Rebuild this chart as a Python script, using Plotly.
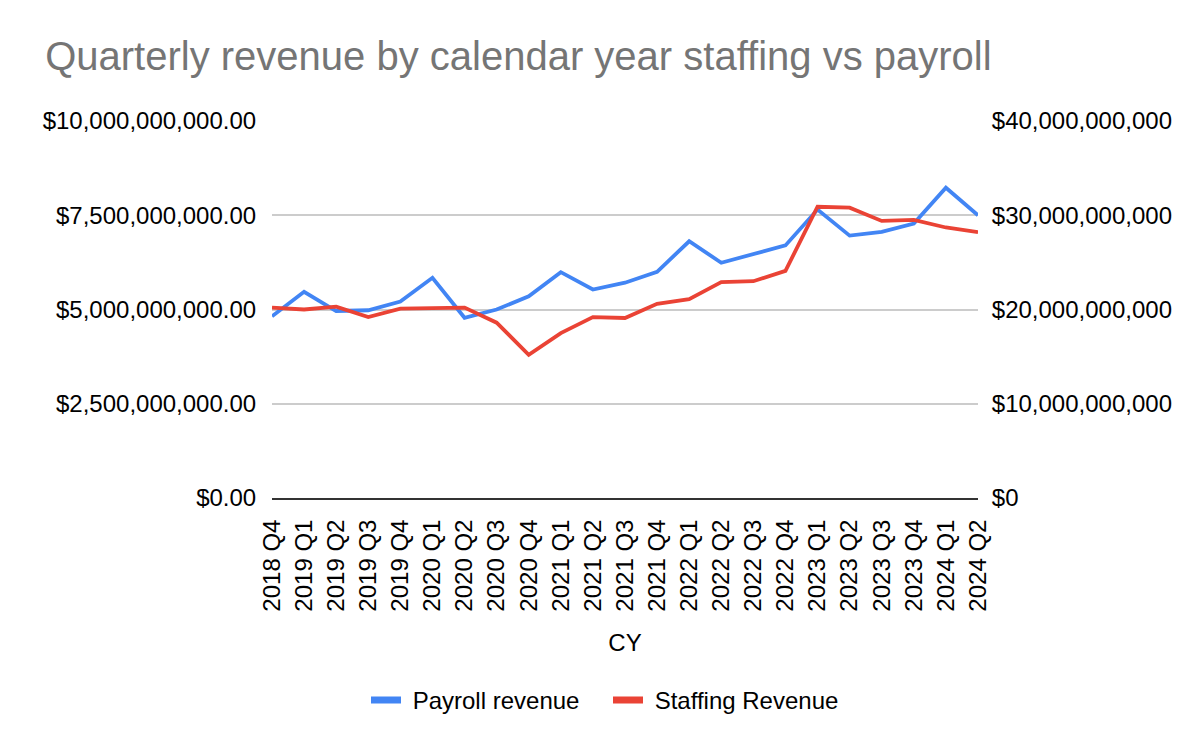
import plotly.graph_objects as go

quarters = ['2018 Q4', '2019 Q1', '2019 Q2', '2019 Q3', '2019 Q4', '2020 Q1', '2020 Q2', '2020 Q3',
            '2020 Q4', '2021 Q1', '2021 Q2', '2021 Q3', '2021 Q4', '2022 Q1', '2022 Q2', '2022 Q3',
            '2022 Q4', '2023 Q1', '2023 Q2', '2023 Q3', '2023 Q4', '2024 Q1', '2024 Q2']

# left axis, billions of dollars
payroll_bn = [4.82, 5.47, 4.96, 4.98, 5.21, 5.84, 4.78, 5.00, 5.35, 5.99, 5.53, 5.71,
              6.00, 6.81, 6.24, 6.47, 6.70, 7.65, 6.96, 7.06, 7.28, 8.23, 7.50]
# right axis, billions of dollars
staffing_bn = [20.2, 20.0, 20.3, 19.2, 20.1, 20.2, 20.2, 18.6, 15.2, 17.5, 19.2, 19.1,
               20.6, 21.1, 22.9, 23.0, 24.1, 30.9, 30.8, 29.4, 29.5, 28.7, 28.2]

payroll = [v * 1e9 for v in payroll_bn]
staffing = [v * 1e9 for v in staffing_bn]

FONT = 'Liberation Sans, Arial, sans-serif'
BLUE = '#4285F4'
RED = '#EA4335'

fig = go.Figure()
fig.add_trace(go.Scatter(x=quarters, y=payroll, mode='lines', name='Payroll revenue',
                         line=dict(color=BLUE, width=3.8), yaxis='y', showlegend=False))
fig.add_trace(go.Scatter(x=quarters, y=staffing, mode='lines', name='Staffing Revenue',
                         line=dict(color=RED, width=3.8), yaxis='y2', showlegend=False))

# legend-only entries so the key swatches come out short and thick like the original
# (leading nbsp pushes the label a little away from the swatch)
fig.add_trace(go.Scatter(x=[None], y=[None], mode='lines', name='\u00a0Payroll revenue',
                         line=dict(color=BLUE, width=7)))
fig.add_trace(go.Scatter(x=[None], y=[None], mode='lines', name='\u00a0Staffing Revenue',
                         line=dict(color=RED, width=7)))

fig.update_layout(
    width=1200, height=742,
    paper_bgcolor='white', plot_bgcolor='white',
    font=dict(family=FONT, size=24, color='#000000'),
    margin=dict(l=264, r=230, t=113, b=252),
    title=dict(text='Quarterly revenue by calendar year staffing vs payroll',
               font=dict(family=FONT, size=40, color='#757575'),
               xref='container', x=0.031, xanchor='left',
               yref='container', y=0.935, yanchor='middle'),
    xaxis=dict(type='category', tickangle=-90, showgrid=False,
               showline=True, linecolor='#333333', linewidth=2,
               ticks='outside', ticklen=10, tickcolor='rgba(0,0,0,0)',
               title=dict(text='CY', standoff=24, font=dict(size=24)),
               automargin=False),
    yaxis=dict(range=[0, 1e10], dtick=2.5e9, tickformat='$,.2f',
               showgrid=True, gridcolor='#cccccc', gridwidth=1.5,
               zeroline=False, ticks='outside', ticklen=10, tickcolor='rgba(0,0,0,0)',
               automargin=False),
    yaxis2=dict(range=[0, 4e10], dtick=1e10, tickformat='$,.0f', overlaying='y', side='right',
                showgrid=False, zeroline=False, ticks='outside', ticklen=8,
                tickcolor='rgba(0,0,0,0)', automargin=False),
    legend=dict(orientation='h', xref='container', x=0.5, xanchor='center',
                yref='container', y=0.067, yanchor='middle',
                font=dict(size=24), itemwidth=30,
                entrywidth=197, entrywidthmode='pixels'),
    showlegend=True,
)

fig.write_html('out.html')
